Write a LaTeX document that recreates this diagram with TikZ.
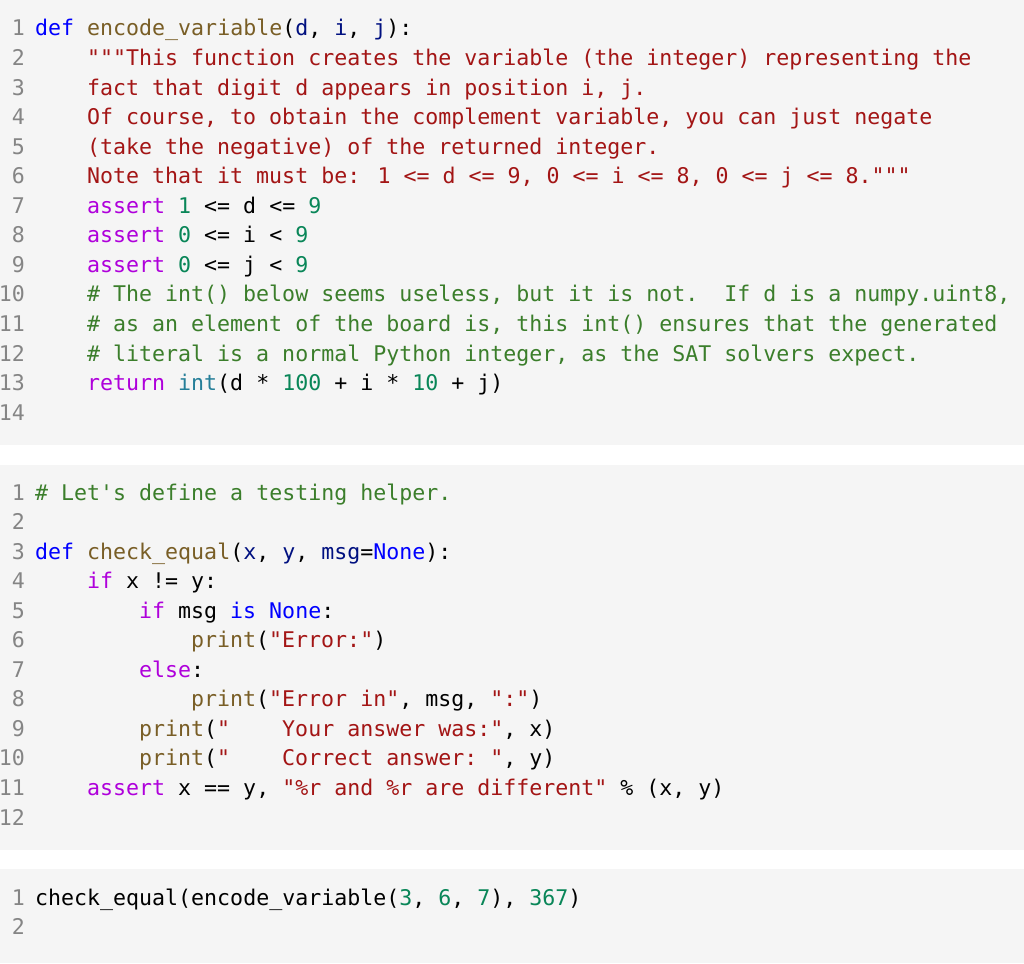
\documentclass[tikz,border=0pt]{standalone}
\usepackage{fontspec}
\newfontfamily\codefont{DejaVu Sans Mono}
\definecolor{bgc}{HTML}{F5F5F5}
\definecolor{kwc}{HTML}{0000FF}
\definecolor{fnc}{HTML}{795E26}
\definecolor{pac}{HTML}{001080}
\definecolor{stc}{HTML}{A31515}
\definecolor{ctc}{HTML}{AF00DB}
\definecolor{cmc}{HTML}{3B7E2B}
\definecolor{nuc}{HTML}{098658}
\definecolor{bic}{HTML}{267F99}
\definecolor{lnc}{HTML}{858585}
\newcommand\Kw[1]{{\color{kwc}#1}}
\newcommand\Fn[1]{{\color{fnc}#1}}
\newcommand\Pa[1]{{\color{pac}#1}}
\newcommand\St[1]{{\color{stc}#1}}
\newcommand\Ct[1]{{\color{ctc}#1}}
\newcommand\Cm[1]{{\color{cmc}#1}}
\newcommand\Nu[1]{{\color{nuc}#1}}
\newcommand\Bi[1]{{\color{bic}#1}}
\newcommand\us{{\char"5F}}
\newcommand\codesize{\codefont\fontsize{21.6}{29.6}\selectfont}
\begin{document}
\begin{tikzpicture}[x=1pt,y=-1pt,
  code/.style={anchor=base west,inner sep=0pt,font=\codesize,text=black},
  lnum/.style={anchor=base east,inner sep=0pt,font=\codesize,text=lnc},
  cell/.style={fill=bgc,draw=none}]
\useasboundingbox (0,0) rectangle (1024,963);
\fill[white] (0,0) rectangle (1024,963);
\path[cell] (0,0) rectangle (1024,445);
\path[cell] (0,465) rectangle (1024,850);
\path[cell] (0,869) rectangle (1024,963);
\def\ls{29.55}
% line numbers
\foreach \k in {1,...,14} \node[lnum] (la\k) at (25,{36+(\k-1)*\ls}) {\k};
\foreach \k in {1,...,12} \node[lnum] (lb\k) at (25,{500+(\k-1)*\ls}) {\k};
\foreach \k in {1,2} \node[lnum] (lc\k) at (25,{905+(\k-1)*\ls}) {\k};
% block 1
\node[code] (a1) at (35,{36+0*\ls}) {\Kw{def} \Fn{encode\us variable}(\Pa{d}, \Pa{i}, \Pa{j}):};
\node[code] (a2) at (87,{36+1*\ls}) {\St{"""This function creates the variable (the integer) representing the}};
\node[code] (a3) at (87,{36+2*\ls}) {\St{fact that digit d appears in position i, j.}};
\node[code] (a4) at (87,{36+3*\ls}) {\St{Of course, to obtain the complement variable, you can just negate}};
\node[code] (a5) at (87,{36+4*\ls}) {\St{(take the negative) of the returned integer.}};
\node[code] (a6) at (87,{36+5*\ls}) {\St{Note that it must be: 1 <= d <= 9, 0 <= i <= 8, 0 <= j <= 8."""}};
\node[code] (a7) at (87,{36+6*\ls}) {\Ct{assert} \Nu{1} <= d <= \Nu{9}};
\node[code] (a8) at (87,{36+7*\ls}) {\Ct{assert} \Nu{0} <= i < \Nu{9}};
\node[code] (a9) at (87,{36+8*\ls}) {\Ct{assert} \Nu{0} <= j < \Nu{9}};
\node[code] (a10) at (87,{36+9*\ls}) {\Cm{\# The int() below seems useless, but it is not.~~If d is a numpy.uint8,}};
\node[code] (a11) at (87,{36+10*\ls}) {\Cm{\# as an element of the board is, this int() ensures that the generated}};
\node[code] (a12) at (87,{36+11*\ls}) {\Cm{\# literal is a normal Python integer, as the SAT solvers expect.}};
\node[code] (a13) at (87,{36+12*\ls}) {\Ct{return} \Bi{int}(d * \Nu{100} + i * \Nu{10} + j)};
% block 2
\node[code] (b1) at (35,{500+0*\ls}) {\Cm{\# Let's define a testing helper.}};
\node[code] (b3) at (35,{500+2*\ls}) {\Kw{def} \Fn{check\us equal}(\Pa{x}, \Pa{y}, \Pa{msg}=\Kw{None}):};
\node[code] (b4) at (87,{500+3*\ls}) {\Ct{if} x != y:};
\node[code] (b5) at (139,{500+4*\ls}) {\Ct{if} msg \Kw{is} \Kw{None}:};
\node[code] (b6) at (191,{500+5*\ls}) {\Fn{print}(\St{"Error:"})};
\node[code] (b7) at (139,{500+6*\ls}) {\Ct{else}:};
\node[code] (b8) at (191,{500+7*\ls}) {\Fn{print}(\St{"Error in"}, msg, \St{":"})};
\node[code] (b9) at (139,{500+8*\ls}) {\Fn{print}(\St{"~~~~Your answer was:"}, x)};
\node[code] (b10) at (139,{500+9*\ls}) {\Fn{print}(\St{"~~~~Correct answer:~"}, y)};
\node[code] (b11) at (87,{500+10*\ls}) {\Ct{assert} x == y, \St{"\%r and \%r are different"} \% (x, y)};
% block 3
\node[code] (c1) at (35,905) {check\us equal(encode\us variable(\Nu{3}, \Nu{6}, \Nu{7}), \Nu{367})};
\end{tikzpicture}
\end{document}
